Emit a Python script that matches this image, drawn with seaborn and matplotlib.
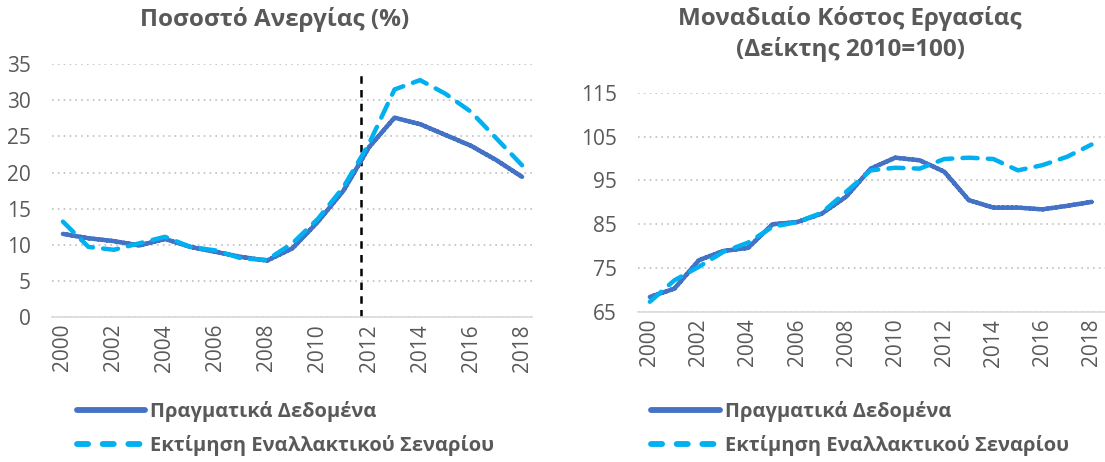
import numpy as np
import pandas as pd
import matplotlib
matplotlib.use("Agg")
import matplotlib.pyplot as plt
from matplotlib.lines import Line2D
import seaborn as sns

# --- data ---
years = list(range(2000, 2019))

unemp_actual = [11.5, 10.9, 10.5, 9.9, 10.8, 9.7, 9.0, 8.3, 7.8, 9.5, 13.2,
                17.5, 23.5, 27.6, 26.7, 25.2, 23.7, 21.7, 19.4]
unemp_scenario = [13.2, 9.7, 9.3, 10.2, 11.1, 9.7, 9.2, 8.1, 7.9, 10.2, 13.6,
                  18.0, 24.0, 31.5, 32.8, 30.9, 28.4, 24.7, 21.0]

ulc_actual = [68.4, 70.3, 76.8, 78.9, 79.6, 85.0, 85.5, 87.4, 91.3, 97.7, 100.2,
              99.6, 97.0, 90.5, 88.8, 88.8, 88.4, 89.2, 90.1]
ulc_scenario = [67.3, 72.2, 75.3, 78.7, 80.8, 84.4, 85.5, 87.6, 92.4, 97.3, 97.9,
                97.7, 99.9, 100.2, 99.9, 97.3, 98.5, 100.4, 103.2]

series_names = ["Πραγματικά Δεδομένα", "Εκτίμηση Εναλλακτικού Σεναρίου"]
titles = ["Ποσοστό Ανεργίας (%)", "Μοναδιαίο Κόστος Εργασίας\n(Δείκτης 2010=100)"]
break_year = 2011.7

left_ticks = [0, 5, 10, 15, 20, 25, 30, 35]
right_ticks = [65, 75, 85, 95, 105, 115]
year_ticks = list(range(2000, 2019, 2))

sns.set_theme(style="white")
plt.rcParams["font.family"] = ["Open Sans", "DejaVu Sans"]

COL_ACT = "#4472C4"
COL_SCN = "#00B0F0"
TXT = "#595959"


def to_long(actual, scenario):
    return pd.DataFrame({
        "year": years * 2,
        "value": actual + scenario,
        "series": [series_names[0]] * len(years) + [series_names[1]] * len(years),
    })


fig = plt.figure(figsize=(11.05, 4.62), dpi=100)
ax1 = fig.add_axes([0.047, 0.314, 0.434, 0.547])
ax2 = fig.add_axes([0.577, 0.325, 0.423, 0.474])

panels = [
    (ax1, to_long(unemp_actual, unemp_scenario), (0, 35), left_ticks, (1999.57, 2018.37)),
    (ax2, to_long(ulc_actual, ulc_scenario), (65, 115), right_ticks, (1999.5, 2018.55)),
]

# legend keys drawn like the Excel ones: thick solid bar, three rounded dashes
legend_keys = [
    Line2D([], [], color=COL_ACT, linewidth=4.2, solid_capstyle="round"),
    Line2D([], [], color=COL_SCN, linewidth=4.2, dash_capstyle="round",
           linestyle=(0, (1.9, 2.5))),
]

for i, (ax, df, ylim, yticks, xlim) in enumerate(panels):
    sns.lineplot(data=df, x="year", y="value", hue="series", style="series",
                 palette=[COL_ACT, COL_SCN], dashes=[(1, 0), (3.4, 2.3)],
                 linewidth=3.2, ax=ax, legend=False)
    for ln in ax.get_lines():
        ln.set_dash_capstyle("round")
    ax.set_ylim(*ylim)
    ax.set_xlim(*xlim)
    ax.set_yticks(yticks)
    ax.set_xticks(year_ticks)
    ax.set_xticklabels([str(y) for y in year_ticks], rotation=90)
    ax.tick_params(axis="both", labelsize=15, colors=TXT, length=0)
    ax.tick_params(axis="y", pad=15)
    ax.tick_params(axis="x", pad=5)
    ax.set_xlabel("")
    ax.set_ylabel("")
    ax.yaxis.grid(True, linestyle=(0, (1, 2.5)), color="#BFBFBF", linewidth=1.2)
    ax.set_axisbelow(True)
    for side in ["left", "right", "top"]:
        ax.spines[side].set_visible(False)
    ax.spines["bottom"].set_color("#D9D9D9")
    ax.spines["bottom"].set_linewidth(1.2)

    lx = 0.053 if i == 0 else 0.573
    fig.legend(legend_keys, series_names, loc="upper left", bbox_to_anchor=(lx, 0.172),
               frameon=False, handlelength=3.4, handletextpad=0.25,
               labelspacing=0.65, labelcolor=TXT,
               prop={"size": 14.5, "weight": "bold"})

ax1.plot([break_year, break_year], [0, 34], color="black", linestyle=(0, (3, 2.5)),
         linewidth=1.8, zorder=1)

fig.text(275 / 1105, 1 - 20 / 462, titles[0], fontsize=17.5, fontweight="bold",
         color=TXT, ha="center", va="center")
fig.text(850 / 1105, 1 - 34 / 462, titles[1], fontsize=17.5, fontweight="bold",
         color=TXT, ha="center", va="center", linespacing=1.3)

plt.savefig("out.png", dpi=100)
plt.close()
